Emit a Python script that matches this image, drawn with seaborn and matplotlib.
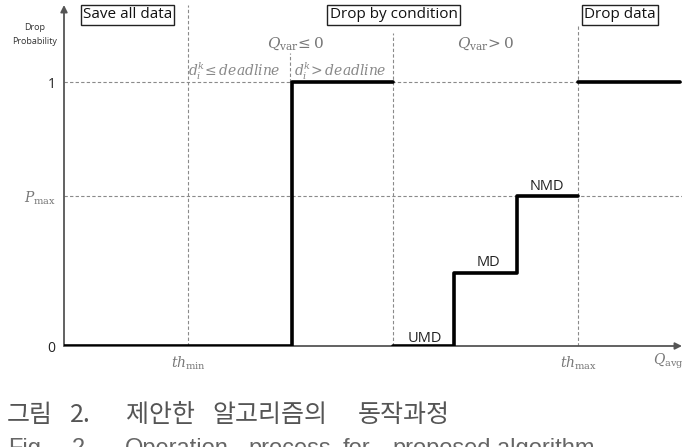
import matplotlib
matplotlib.use("Agg")
import matplotlib.pyplot as plt
import seaborn as sns
import pandas as pd

# ---- data (queue length in % of buffer, drop probability) ----
th_min = 20.1
deadline_split = 36.9
qvar_split = 53.2
step_md = 63.1
step_nmd = 73.3
th_max = 83.2
q_end = 99.7
p_max = 0.568
p_md = 0.277

seg_a_x = [0, deadline_split, deadline_split, qvar_split]
seg_a_y = [0, 0, 1, 1]
seg_b_x = [qvar_split, step_md, step_md, step_nmd, step_nmd, th_max]
seg_b_y = [0, 0, p_md, p_md, p_max, p_max]
seg_c_x = [th_max, q_end]
seg_c_y = [1, 1]

ytick_vals = [0, p_max, 1]
ytick_labels = ["0", r"$P_{\mathrm{max}}$", "1"]
xtick_vals = [th_min, th_max]
xtick_labels = [r"$th_{\mathrm{min}}$", r"$th_{\mathrm{max}}$"]
zone_labels = ["Save all data", "Drop by condition", "Drop data"]
step_labels = ["UMD", "MD", "NMD"]
caption_ko = ["그림", "2.", "제안한", "알고리즘의", "동작과정"]
caption_en = ["Fig.", "2.", "Operation", "process", "for", "proposed", "algorithm"]

sns.set_theme(style="white")
plt.rcParams["font.family"] = ["Open Sans", "DejaVu Sans"]
plt.rcParams["mathtext.fontset"] = "dejavuserif"

W, H = 689, 447
fig = plt.figure(figsize=(W / 100, H / 100), dpi=100)
ax_l, ax_r, ax_b, ax_t = 64, 682, 346, 5
ax = fig.add_axes([ax_l / W, (H - ax_b) / H, (ax_r - ax_l) / W, (ax_b - ax_t) / H])
ax.set_xlim(0, 100)
ax.set_ylim(0, (ax_b - ax_t) / 264)
ymax = (ax_b - ax_t) / 264

def ypx(p):
    return (ax_b - p) / 264

grid_kw = dict(color="#8a8a8a", lw=0.8, ls=(0, (3, 2)), zorder=1)
ax.plot([0, q_end + 0.5], [1, 1], **grid_kw)
ax.plot([0, q_end + 0.5], [p_max, p_max], **grid_kw)
ax.plot([th_min, th_min], [0, ymax], **grid_kw)
ax.plot([qvar_split, qvar_split], [0, ypx(33)], **grid_kw)
ax.plot([th_max, th_max], [0, ypx(26)], **grid_kw)
ax.plot([deadline_split - 0.3, deadline_split - 0.3], [1, ypx(53)], **grid_kw)

# axes arrows
ax.annotate("", xy=(0, 1), xytext=(0, 0), xycoords="axes fraction",
            arrowprops=dict(arrowstyle="-|>", color="#555555", lw=1.3,
                            mutation_scale=10, shrinkA=0, shrinkB=0), zorder=2)
ax.annotate("", xy=(1, 0), xytext=(0, 0), xycoords="axes fraction",
            arrowprops=dict(arrowstyle="-|>", color="#555555", lw=1.3,
                            mutation_scale=10, shrinkA=0, shrinkB=0), zorder=2)

df = pd.DataFrame({
    "q": seg_a_x + seg_b_x + seg_c_x,
    "p": seg_a_y + seg_b_y + seg_c_y,
    "seg": ["a"] * len(seg_a_x) + ["b"] * len(seg_b_x) + ["c"] * len(seg_c_x),
})
sns.lineplot(data=df, x="q", y="p", units="seg", estimator=None, sort=False,
             color="black", lw=2.6, legend=False, ax=ax, zorder=3)

for s in ax.spines.values():
    s.set_visible(False)
ax.set_xlabel("")
ax.set_ylabel("")
ax.set_yticks(ytick_vals, ytick_labels)
ax.set_xticks(xtick_vals, xtick_labels)
ax.tick_params(length=0, labelsize=10, pad=6)
for t, c in zip(ax.get_yticklabels(), ["#222222", "#777777", "#222222"]):
    t.set_color(c)
for t in ax.get_xticklabels():
    t.set_color("#777777")
    t.set_fontsize(10)

def px_text(x, y, s, **kw):
    fig.text(x / W, 1 - y / H, s, **kw)

px_text(668, 361, r"$Q_{\mathrm{avg}}$", color="#777777", fontsize=10, ha="center", va="center")
px_text(35, 28, "Drop", fontsize=6.5, color="#333333", ha="center", va="center")
px_text(35, 42, "Probability", fontsize=6.5, color="#333333", ha="center", va="center")

box = dict(boxstyle="square,pad=0.15", fc="white", ec="#222222", lw=1.0)
for lbl, cx in zip(zone_labels, [127.5, 393.5, 620]):
    px_text(cx, 15, lbl, fontsize=11, color="#111111", ha="center", va="center", bbox=box)

px_text(296, 44, r"$Q_{\mathrm{var}}\!\leq 0$", fontsize=11, color="#777777", ha="center", va="center")
px_text(486, 44, r"$Q_{\mathrm{var}}\!> 0$", fontsize=11, color="#777777", ha="center", va="center")
px_text(234, 71, r"$d_i^k\!\leq deadline$", fontsize=10, color="#888888", ha="center", va="center")
px_text(340, 71, r"$d_i^k\!> deadline$", fontsize=10, color="#888888", ha="center", va="center")

for lbl, (cx, cy) in zip(step_labels, [(425, 338), (488, 262), (547, 187)]):
    px_text(cx, cy, lbl, fontsize=10.5, color="#222222", ha="center", va="center")

cap_font = ["Noto Sans CJK KR", "DejaVu Sans"]
for w, x in zip(caption_ko, [7, 70, 126, 212, 358]):
    px_text(x, 422, w, fontsize=18, color="#555555", ha="left", va="baseline", family=cap_font)
for w, x in zip(caption_en, [8, 72, 125, 248, 343, 392, 497]):
    px_text(x, 455, w, fontsize=17, color="#666666", ha="left", va="baseline",
            family=["Liberation Sans", "DejaVu Sans"])

fig.savefig("out.png", dpi=100)
